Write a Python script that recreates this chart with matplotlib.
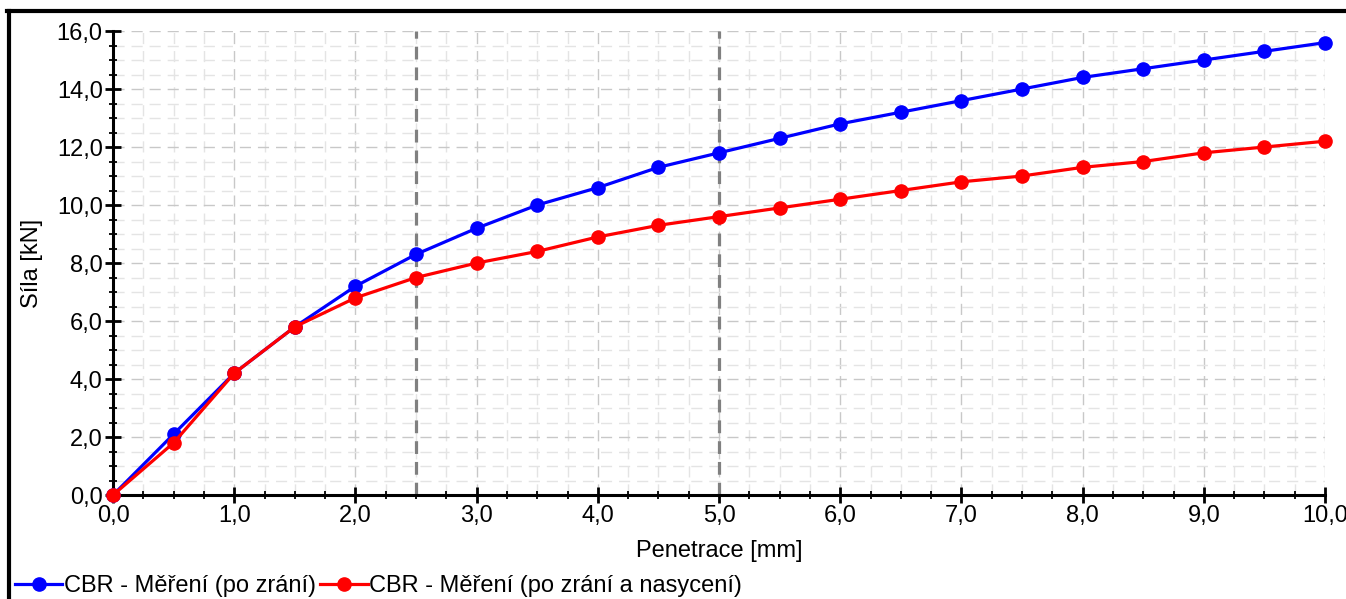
import matplotlib
matplotlib.use("Agg")
import matplotlib.pyplot as plt
from matplotlib.ticker import MultipleLocator, FuncFormatter
from matplotlib.lines import Line2D

plt.rcParams['font.family'] = ['Liberation Sans', 'DejaVu Sans']

# penetrace [mm]
penetrace = [0.0, 0.5, 1.0, 1.5, 2.0, 2.5, 3.0, 3.5, 4.0, 4.5, 5.0,
             5.5, 6.0, 6.5, 7.0, 7.5, 8.0, 8.5, 9.0, 9.5, 10.0]
# sila [kN]
po_zrani = [0.0, 2.1, 4.2, 5.8, 7.2, 8.3, 9.2, 10.0, 10.6, 11.3, 11.8,
            12.3, 12.8, 13.2, 13.6, 14.0, 14.4, 14.7, 15.0, 15.3, 15.6]
po_nasyceni = [0.0, 1.8, 4.2, 5.8, 6.8, 7.5, 8.0, 8.4, 8.9, 9.3, 9.6,
               9.9, 10.2, 10.5, 10.8, 11.0, 11.3, 11.5, 11.8, 12.0, 12.2]
ref_lines = [2.5, 5.0]
labels = ['CBR - Měření (po zrání)', 'CBR - Měření (po zrání a nasycení)']

fig = plt.figure(figsize=(13.46, 5.99), dpi=100)
ax = fig.add_axes([0.0840, 0.1736, 0.9004, 0.7746])

ax.set_xlim(0, 10)
ax.set_ylim(0, 16)
ax.xaxis.set_major_locator(MultipleLocator(1))
ax.xaxis.set_minor_locator(MultipleLocator(0.25))
ax.yaxis.set_major_locator(MultipleLocator(2))
ax.yaxis.set_minor_locator(MultipleLocator(0.5))
fmt = FuncFormatter(lambda v, p: f"{v:.1f}".replace('.', ','))
ax.xaxis.set_major_formatter(fmt)
ax.yaxis.set_major_formatter(fmt)

ax.grid(which='major', color='#c8c8c8', linestyle=(0, (8, 5)), linewidth=1.0)
ax.grid(which='minor', color='#e4e4e4', linestyle=(0, (8, 5)), linewidth=1.0)
ax.set_axisbelow(True)

for xv in ref_lines:
    ax.axvline(xv, color='#808080', linestyle=(0, (4, 2.5)), linewidth=2.3, zorder=2)

ax.plot(penetrace, po_zrani, color='#0000ff', marker='o', markersize=9.5,
        linewidth=2.3, label=labels[0], zorder=4, clip_on=False)
ax.plot(penetrace, po_nasyceni, color='#ff0000', marker='o', markersize=9.5,
        linewidth=2.3, label=labels[1], zorder=5, clip_on=False)

for s in ['top', 'right']:
    ax.spines[s].set_visible(False)
for s in ['left', 'bottom']:
    ax.spines[s].set_linewidth(2.2)
ax.tick_params(which='major', direction='inout', length=11, width=2, labelsize=17, pad=2)
ax.tick_params(which='minor', direction='inout', length=6, width=1.3)

ax.set_xlabel('Penetrace [mm]', fontsize=17, labelpad=9)
ax.set_ylabel('Síla [kN]', fontsize=17, labelpad=10)

leg = fig.legend(loc='lower left', bbox_to_anchor=(-0.001, -0.024), ncol=2, frameon=False,
                 fontsize=17, handlelength=2.0, handletextpad=0.05, columnspacing=0.2,
                 borderpad=0.2)

# ramecek kolem grafu
fig.add_artist(Line2D([7 / 1346, 1.0], [1 - 11 / 599, 1 - 11 / 599], color='black', linewidth=3))
fig.add_artist(Line2D([8.5 / 1346, 8.5 / 1346], [0.0, 1 - 11 / 599], color='black', linewidth=3))

fig.savefig('out.png', dpi=100)
